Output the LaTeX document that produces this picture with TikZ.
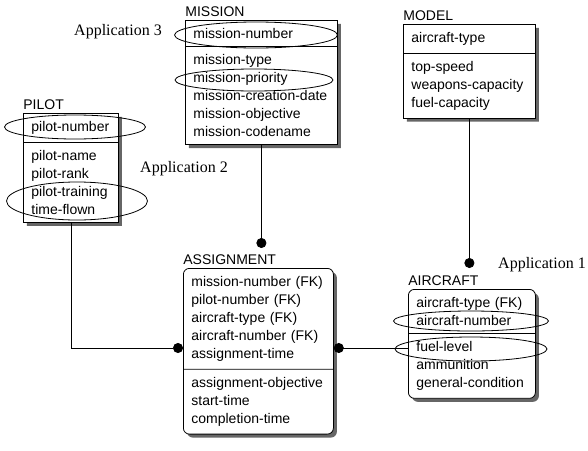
\documentclass[tikz,border=0pt]{standalone}
\usepackage{fontspec}
\setmainfont{Liberation Serif}
\newfontfamily\ersans{Liberation Sans}
\usepackage{tikz}
\usetikzlibrary{arrows.meta,shapes.multipart,shapes.geometric,shadows,positioning}

\begin{document}
\begin{tikzpicture}[x=1pt, y=-1pt, line width=0.8pt,
    >={Circle[length=10pt,width=10pt]},
    entity/.style={draw, fill=white, rectangle split, rectangle split parts=2, align=left,
      inner xsep=8pt, inner ysep=7.5pt, anchor=north west,
      font=\ersans\fontsize{14}{18}\selectfont,
      drop shadow={shadow xshift=3.5pt, shadow yshift=-3.5pt, fill=black!60, opacity=1}},
    weak/.style={entity, rounded corners=6pt},
    etitle/.style={anchor=base west, inner sep=0pt, font=\ersans\fontsize{14}{16}\selectfont},
    ring/.style={draw, ellipse, inner sep=0pt},
    app/.style={font=\fontsize{16}{18}\selectfont}]
    \useasboundingbox (0,0) rectangle (588,450);

    \node at (185,20) [entity, text width=136pt] (mission){mission-number
      \nodepart{two}mission-type\\ mission-priority\\ mission-creation-date\\ mission-objective\\ mission-codename};
    \node at (403,24) [entity, text width=116pt] (model){aircraft-type
      \nodepart{two}top-speed\\ weapons-capacity\\ fuel-capacity};
    \node at (23,113) [entity, text width=79pt] (pilot){pilot-number
      \nodepart{two}pilot-name\\ pilot-rank\\ pilot-training\\ time-flown};
    \node at (183,268) [weak, text width=134pt] (assign){mission-number (FK)\\ pilot-number (FK)\\ aircraft-type (FK)\\ aircraft-number (FK)\\ assignment-time
      \nodepart{two}assignment-objective\\ start-time\\ completion-time};
    \node at (408,289) [weak, text width=111pt] (aircraft){aircraft-type (FK)\\ aircraft-number
      \nodepart{two}fuel-level\\ ammunition\\ general-condition};

    %% Titles
    \node at ([yshift=4pt]mission.north west) [etitle] (missionT){MISSION};
    \node at ([yshift=4pt]model.north west) [etitle] (modelT){MODEL};
    \node at ([yshift=4pt]pilot.north west) [etitle] (pilotT){PILOT};
    \node at ([yshift=4pt]assign.north west) [etitle] (assignT){ASSIGNMENT};
    \node at ([yshift=4pt]aircraft.north west) [etitle] (aircraftT){AIRCRAFT};

    %% Rings
    \node at (256,35) [ring, minimum width=163pt, minimum height=26pt] (r1){};
    \node at (254,80) [ring, minimum width=158pt, minimum height=22pt] (r2){};
    \node at (75,127) [ring, minimum width=141pt, minimum height=24pt] (r3){};
    \node at (77,201) [ring, minimum width=141pt, minimum height=38pt] (r4){};
    \node at (471,321) [ring, minimum width=155pt, minimum height=20pt] (r5){};
    \node at (471,349) [ring, minimum width=152pt, minimum height=24pt] (r6){};

    \node at (118,32) [app] (app3){Application 3};
    \node at (184,169) [app] (app2){Application 2};
    \node at (542,265) [app] (app1){Application 1};

    %% Connectors
    \coordinate (mdot) at (mission.south |- 0,248);
    \coordinate (adot) at (model.south |- 0,268);
    \coordinate (asgL) at (assign.west |- 0,348);
    \coordinate (asgR) at (assign.east |- 0,348);
    \draw [->] (mission.south) -- (mdot);
    \draw [->] (model.south) -- (adot);
    \draw [->] (pilot.south) |- (asgL);
    \draw [<-] (asgR) -- (aircraft.west |- asgR);
\end{tikzpicture}
\end{document}
